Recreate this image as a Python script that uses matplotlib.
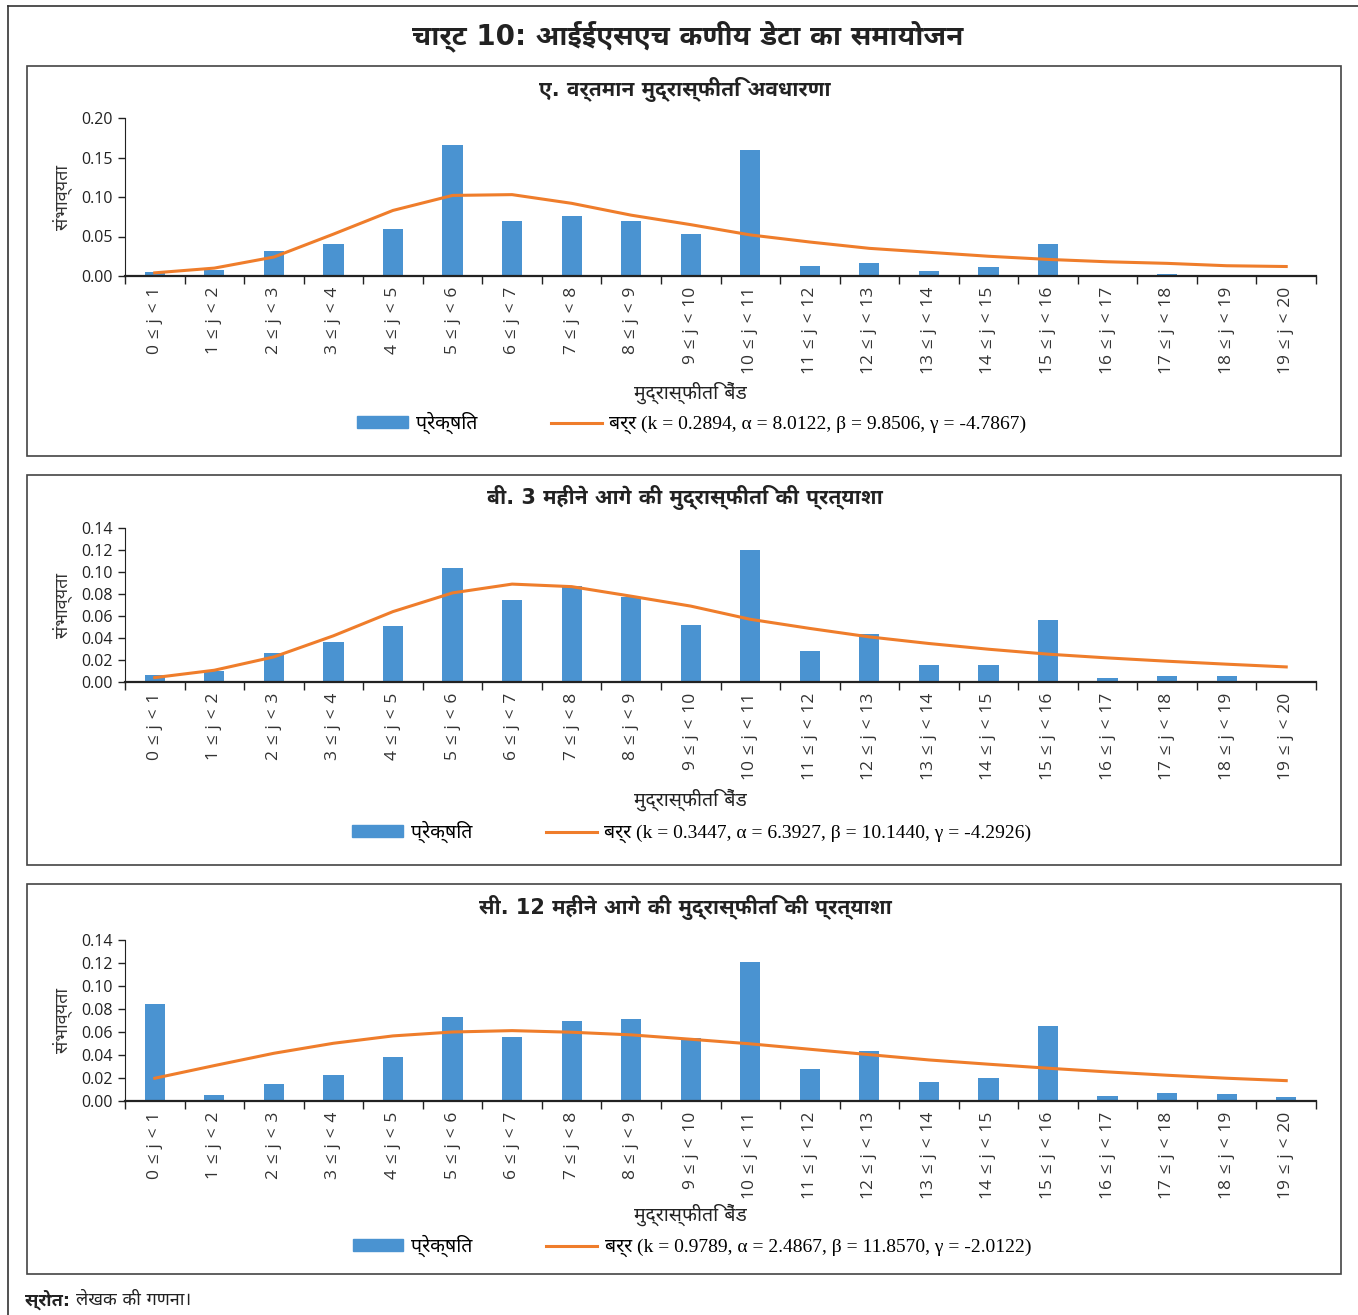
import numpy as np
import matplotlib
matplotlib.use('Agg')
import matplotlib.pyplot as plt
from matplotlib import font_manager
from matplotlib.ft2font import FT2Font
from matplotlib.patches import Rectangle
from matplotlib.lines import Line2D

# inflation bands 0 <= j < 1 ... 19 <= j < 20
bands = ['{} ≤ j < {}'.format(i, i + 1) for i in range(20)]

# panel A: current inflation perception
obs_a = [0.005, 0.008, 0.032, 0.040, 0.059, 0.166, 0.070, 0.076, 0.070, 0.053,
         0.160, 0.013, 0.016, 0.006, 0.012, 0.040, 0.001, 0.003, 0.001, 0.000]
fit_a = [0.004, 0.010, 0.024, 0.053, 0.083, 0.102, 0.103, 0.092, 0.077, 0.065,
         0.052, 0.043, 0.035, 0.030, 0.025, 0.021, 0.018, 0.016, 0.013, 0.012]

# panel B: 3 months ahead expectation
obs_b = [0.0068, 0.0098, 0.026, 0.036, 0.051, 0.104, 0.0746, 0.087, 0.0776, 0.052,
         0.120, 0.028, 0.0435, 0.0155, 0.0155, 0.0563, 0.004, 0.0058, 0.0052, 0.0013]
fit_b = [0.004, 0.0107, 0.0228, 0.042, 0.064, 0.081, 0.089, 0.0867, 0.078, 0.069,
         0.057, 0.0487, 0.041, 0.035, 0.0298, 0.0253, 0.0219, 0.0189, 0.0162, 0.0137]

# panel C: 12 months ahead expectation
obs_c = [0.0845, 0.0052, 0.0148, 0.0226, 0.038, 0.0734, 0.0555, 0.0694, 0.0714, 0.0549,
         0.1208, 0.0279, 0.0433, 0.0168, 0.0198, 0.065, 0.0044, 0.007, 0.0058, 0.0032]
fit_c = [0.0198, 0.0308, 0.0415, 0.0502, 0.0566, 0.060, 0.0612, 0.0598, 0.0575, 0.0537,
         0.0497, 0.045, 0.0403, 0.0357, 0.032, 0.0285, 0.0253, 0.0224, 0.0198, 0.0177]

titles = ['ए. वर्तमान मुद्रास्फीति अवधारणा',
          'बी. 3 महीने आगे की मुद्रास्फीति की प्रत्याशा',
          'सी. 12 महीने आगे की मुद्रास्फीति की प्रत्याशा']
fit_labels = ['बर्र (k = 0.2894, α = 8.0122, β = 9.8506, γ = -4.7867)',
              'बर्र (k = 0.3447, α = 6.3927, β = 10.1440, γ = -4.2926)',
              'बर्र (k = 0.9789, α = 2.4867, β = 11.8570, γ = -2.0122)']
ymax = [0.20, 0.14, 0.14]
ystep = [0.05, 0.02, 0.02]


def find_deva_font():
    # pick an installed family with Devanagari glyphs, preferring proportional sans faces
    best, best_score = None, -99
    for f in font_manager.fontManager.ttflist:
        try:
            cmap = FT2Font(f.fname).get_charmap()
        except Exception:
            continue
        if 0x0915 not in cmap or 0x093F not in cmap:
            continue
        name = f.name.lower()
        score = 0
        if 'mono' in name or 'code' in name:
            score -= 10
        if 'sans' in name:
            score += 2
        if 'devanagari' in name:
            score += 3
        if 'noto' in name:
            score += 1
        if score > best_score:
            best, best_score = f.name, score
    return best or 'DejaVu Sans'


deva = find_deva_font()
hfam = ['DejaVu Sans', deva]
sfam = ['Liberation Serif', deva]
nfam = ['Open Sans', 'DejaVu Sans']

BLUE = '#4a93d1'
ORANGE = '#ef7d2b'
W, H = 1358, 1315
fig = plt.figure(figsize=(W / 100, H / 100), dpi=100)


def fx(x):
    return x / W


def fy(y):
    return 1 - y / H


# outer frame: top and left rules only
fig.add_artist(Line2D([fx(8), 1.0], [fy(6), fy(6)], color='#333333', lw=1.2))
fig.add_artist(Line2D([fx(8), fx(8)], [fy(6), 0.0], color='#333333', lw=1.2))

fig.text(fx(688), fy(36), 'चार्ट 10: आईईएसएच कणीय डेटा का समायोजन', ha='center', va='center',
         fontsize=20, fontweight='bold', family=hfam, color='#222222')

box_top = [66, 475, 884]
# axes top/bottom and x-label/legend rows, relative to each box top
ax_rows = [(52, 210), (53, 207), (56, 217)]
label_rows = [(327, 357), (325, 357), (331, 362)]
panels = [(obs_a, fit_a), (obs_b, fit_b), (obs_c, fit_c)]
x = np.arange(len(bands))

for p, (obs, fit) in enumerate(panels):
    top = box_top[p]
    fig.add_artist(Rectangle((fx(27), fy(top + 390)), fx(1341) - fx(27), fy(top) - fy(top + 390),
                             transform=fig.transFigure, fill=False, edgecolor='#444444', lw=1.2))
    fig.text(fx(685), fy(top + 23), titles[p], ha='center', va='center',
             fontsize=15, fontweight='bold', family=hfam, color='#222222')

    ax_top, ax_bot = top + ax_rows[p][0], top + ax_rows[p][1]
    ax = fig.add_axes([fx(125), fy(ax_bot), fx(1316) - fx(125), fy(ax_top) - fy(ax_bot)])
    ax.bar(x, obs, width=0.34, color=BLUE, zorder=2)
    ax.plot(x, fit, color=ORANGE, lw=2.2, zorder=3)

    ax.set_xlim(-0.5, len(bands) - 0.5)
    ax.set_ylim(0, ymax[p])
    yt = np.arange(0, ymax[p] + 1e-9, ystep[p])
    ax.set_yticks(yt)
    ax.set_yticklabels(['{:.2f}'.format(v) for v in yt], family=nfam, fontsize=11.5, color='#222222')
    ax.set_xticks(x)
    # three-per-em spaces give the wider gaps between the symbols
    ax.set_xticklabels([b.replace(' ', '\u2004') for b in bands], rotation=90, family=nfam,
                       fontsize=12.5, color='#333333')
    ax.tick_params(axis='x', length=0, pad=8)
    ax.set_xticks(np.arange(-0.5, len(bands)), minor=True)
    ax.tick_params(axis='x', which='minor', length=6, width=1, color='#222222')
    ax.tick_params(axis='y', length=5, width=1, color='#222222', pad=4)
    for s in ['top', 'right']:
        ax.spines[s].set_visible(False)
    ax.spines['bottom'].set_linewidth(1.6)
    ax.spines['bottom'].set_color('#222222')
    ax.spines['left'].set_color('#222222')

    ax.set_ylabel('संभाव्यता', family=hfam, fontsize=13, color='#333333', labelpad=6)
    fig.text(fx(690), fy(top + label_rows[p][0]), 'मुद्रास्फीति बैंड', ha='center', va='center',
             fontsize=14, family=hfam, color='#222222')

    handles = [Rectangle((0, 0), 1, 1, color=BLUE),
               Line2D([0], [0], color=ORANGE, lw=2.2)]
    fig.legend(handles, ['प्रेक्षित', fit_labels[p]], loc='center',
               bbox_to_anchor=(fx(692), fy(top + label_rows[p][1])), ncol=2, frameon=False,
               prop={'family': sfam, 'size': 14}, handlelength=2.6, handleheight=0.5,
               columnspacing=3.8, handletextpad=0.4)

src = fig.text(fx(25), fy(1300), 'स्रोत:', ha='left', va='center', fontsize=13,
               fontweight='bold', family=hfam, color='#222222')
fig.canvas.draw()
ext = src.get_window_extent()
fig.text((ext.x1 + 6) / W, fy(1300), 'लेखक की गणना।', ha='left', va='center', fontsize=13,
         family=hfam, color='#222222')

fig.savefig('out.png', dpi=100)
